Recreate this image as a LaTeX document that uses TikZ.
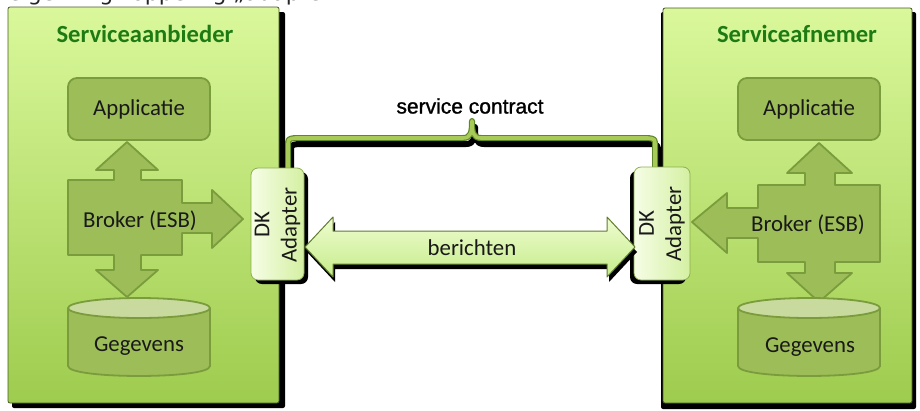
\documentclass[tikz,border=0pt]{standalone}
\usepackage{fontspec}
\setmainfont{Carlito}
\newfontfamily\dejavu{DejaVu Sans}
\newfontfamily\arialf[FakeBold=1.2]{Liberation Sans}
\definecolor{boxtop}{RGB}{218,248,155}
\definecolor{boxbot}{RGB}{158,204,78}
\definecolor{boxedge}{RGB}{70,90,40}
\definecolor{titlegreen}{RGB}{30,123,20}
\definecolor{olivefill}{RGB}{157,189,88}
\definecolor{olivedark}{RGB}{122,156,60}
\definecolor{cyltop}{RGB}{200,218,158}
\definecolor{adlight}{RGB}{246,253,230}
\definecolor{addark}{RGB}{212,240,162}
\definecolor{adborder}{RGB}{140,176,80}
\definecolor{msglight}{RGB}{238,252,208}
\definecolor{msgdark}{RGB}{198,236,138}
\definecolor{msgborder}{RGB}{95,125,45}
\definecolor{bracegreen}{RGB}{168,202,86}
\definecolor{bracedark}{RGB}{95,135,40}
\newcommand{\lblfont}{\fontsize{22.8}{27.4}\selectfont}
\tikzset{
  bigbox/.style={draw=boxedge, line width=0.8pt, top color=boxtop, bottom color=boxbot, rounded corners=2pt},
  boxshadow/.style={fill=black, rounded corners=2pt},
  titletext/.style={font=\fontsize{24.6}{28}\selectfont\bfseries, text=titlegreen, inner sep=0pt},
  lbl/.style={font=\lblfont, text=black!90, inner sep=0pt},
  shapefill/.style={fill=olivefill, draw=olivedark, line width=1.8pt, line join=round},
  appbox/.style={shapefill, rounded corners=9pt, minimum width=142pt, minimum height=62pt, inner sep=0pt, font=\lblfont, text=black!90},
  adapterbox/.style={draw=adborder, line width=0.8pt, left color=adlight, right color=addark, rounded corners=7pt},
  adshadow/.style={fill=black, rounded corners=7pt},
  adtext/.style={font=\lblfont, text=black!90, align=center, rotate=90, inner sep=0pt},
  msgarrow/.style={draw=msgborder, line width=1pt, top color=msglight, bottom color=msgdark, line join=round},
  braceshadow/.style={draw=black, line width=6pt, line join=round, line cap=round},
  braceouter/.style={draw=bracedark, line width=6pt, line join=round, line cap=round},
  braceinner/.style={draw=bracegreen, line width=3.6pt, line join=round, line cap=round},
}
\begin{document}
\begin{tikzpicture}[x=1pt,y=-1pt]
\useasboundingbox (0,0) rectangle (920,410);

% caption line cut off at the top
\node[anchor=base west, inner sep=0pt, font=\dejavu\fontsize{22}{26}\selectfont, text=black!85] (cap) at (8,0.5) {eigen Digikoppeling „adapter".};

% the two big boxes
\path[boxshadow] (12,12) rectangle (285,408);
\path[bigbox] (8,7) rectangle (279,403);
\path[boxshadow] (661,12) rectangle (916,409);
\path[bigbox] (663,8) rectangle (912,403);

\node[titletext] (ptitle) at (145,34) {Serviceaanbieder};
\node[titletext] (ctitle) at (797,34) {Serviceafnemer};

% service contract brace
\def\bracepath{(288,168) -- (288,146) .. controls (288,139) .. (295,138) -- (463,138) .. controls (471,138) and (472,132) .. (472,121) .. controls (472,132) and (473,138) .. (481,138) -- (648,138) .. controls (655,139) .. (655,146) -- (655,168)}
\begin{scope}[shift={(3,6)}]
\path[braceshadow] \bracepath;
\end{scope}
\path[braceouter] \bracepath;
\path[braceinner] \bracepath;
\node[font=\arialf\fontsize{21}{24}\selectfont, inner sep=0pt] (contract) at (470,106) {service contract};

% left (provider) inside
\node[appbox] (papp) at (139,109) {Applicatie};
\path[shapefill] (68,180) -- (114,180) -- (114,170) -- (96,170) -- (127,142) -- (158,170) -- (141,170) -- (141,180) -- (182,180) -- (182,203) -- (212,203) -- (212,190) -- (243,219) -- (212,248) -- (212,233) -- (182,233) -- (182,255) -- (141,255) -- (141,270) -- (158,270) -- (127,297) -- (96,270) -- (114,270) -- (114,255) -- (68,255) -- cycle;
\node[lbl] (pbroker) at (140,221) {Broker (ESB)};
\path[shapefill] (68,308) -- (68,366) .. controls (68,379.3) and (210,379.3) .. (210,366) -- (210,308) -- cycle;
\path[shapefill, fill=cyltop] (139,308) ellipse [x radius=71pt, y radius=10pt];
\node[lbl] (pdata) at (139,346) {Gegevens};

% right (consumer) inside
\node[appbox] (capp) at (809,109) {Applicatie};
\path[shapefill] (758,185) -- (805,185) -- (805,173) -- (787,173) -- (819,143) -- (852,173) -- (835,173) -- (835,185) -- (880,185) -- (880,262) -- (835,262) -- (835,273) -- (852,273) -- (819,302) -- (787,273) -- (805,273) -- (805,262) -- (758,262) -- (758,238) -- (727,238) -- (727,253) -- (692,222) -- (727,193) -- (727,208) -- (758,208) -- cycle;
\node[lbl] (cbroker) at (808,225) {Broker (ESB)};
\path[shapefill] (738,308) -- (738,366) .. controls (738,379.3) and (880,379.3) .. (880,366) -- (880,308) -- cycle;
\path[shapefill, fill=cyltop] (809,308) ellipse [x radius=71pt, y radius=10pt];
\node[lbl] (cdata) at (810,347) {Gegevens};

% adapters
\path[adshadow] (255,172) rectangle (308,284);
\path[adapterbox] (251,168) rectangle (304,280);
\node[adtext] (pad) at (277.5,225) {DK\\Adapter};
\path[adshadow] (630,171) rectangle (686,284);
\path[adapterbox] (634,167) rectangle (690,280);
\node[adtext] (cad) at (662,224) {DK\\Adapter};

% berichten arrow
\def\msgpath{(305,247) -- (333,217) -- (333,231) -- (607,231) -- (607,217) -- (635,247) -- (607,277) -- (607,264) -- (333,264) -- (333,277) -- cycle}
\begin{scope}[shift={(2,5)}]
\fill[black, line join=round] \msgpath;
\end{scope}
\path[msgarrow] \msgpath;
\node[lbl] (msg) at (472,248) {berichten};
\end{tikzpicture}
\end{document}
